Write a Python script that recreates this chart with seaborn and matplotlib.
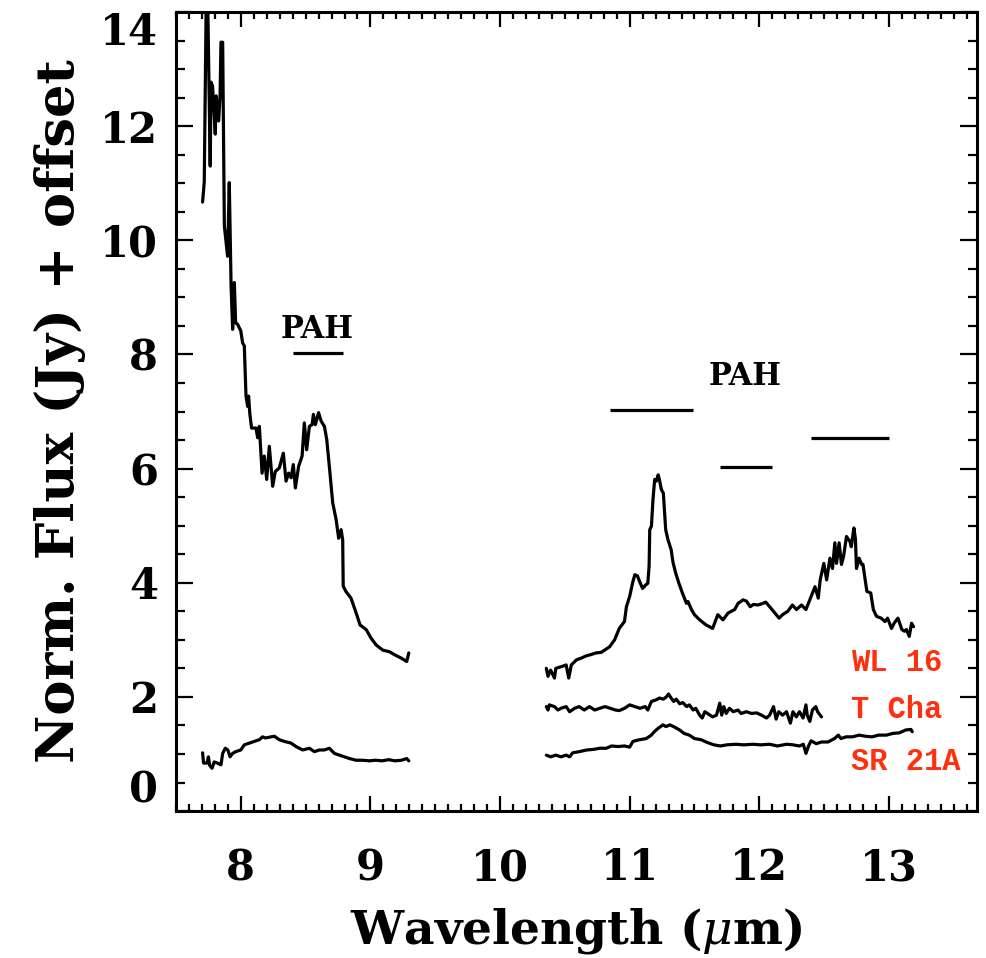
import matplotlib
matplotlib.use("Agg")
import matplotlib.pyplot as plt
import seaborn as sns
import pandas as pd

# short-wavelength piece (7.7 - 9.3 um)
wl16_short_x = [7.705, 7.718, 7.735, 7.742, 7.764, 7.770, 7.782, 7.803, 7.810, 7.829,
                7.840, 7.847, 7.860, 7.865, 7.873, 7.898, 7.911, 7.925, 7.937, 7.950,
                7.960, 7.975, 8.000, 8.014, 8.027, 8.040, 8.053, 8.060, 8.070, 8.083,
                8.117, 8.130, 8.143, 8.164, 8.181, 8.200, 8.220, 8.246, 8.266, 8.297,
                8.328, 8.349, 8.369, 8.388, 8.405, 8.421, 8.446, 8.473, 8.490, 8.508,
                8.529, 8.550, 8.560, 8.575, 8.600, 8.620, 8.645, 8.663, 8.683, 8.709,
                8.735, 8.755, 8.774, 8.786, 8.790, 8.810, 8.850, 8.890, 8.920, 8.967,
                9.005, 9.044, 9.095, 9.147, 9.185, 9.237, 9.280, 9.296]
wl16_short_y = [10.67, 11.02, 14.60, 14.60, 11.30, 12.77, 12.70, 11.86, 12.53, 12.09,
                12.53, 13.47, 13.47, 12.24, 10.25, 9.72, 11.01, 9.20, 8.44, 9.26,
                8.55, 8.53, 8.41, 8.20, 8.15, 7.27, 7.09, 7.27, 6.95, 6.71,
                6.71, 6.54, 6.74, 5.92, 6.22, 5.81, 6.39, 5.69, 5.95, 6.01,
                6.27, 5.78, 5.92, 5.84, 6.07, 5.66, 6.04, 6.22, 6.80, 6.33,
                6.74, 6.77, 6.95, 6.77, 6.98, 6.83, 6.74, 6.51, 6.04, 5.40,
                5.11, 4.78, 4.93, 4.75, 3.94, 3.85, 3.73, 3.47, 3.26, 3.18,
                3.03, 2.91, 2.82, 2.79, 2.74, 2.68, 2.62, 2.77]

sr21_short_x = [7.705, 7.713, 7.740, 7.750, 7.760, 7.778, 7.795, 7.820, 7.847, 7.860,
                7.880, 7.900, 7.917, 7.937, 7.960, 8.000, 8.027, 8.066, 8.104, 8.143,
                8.168, 8.190, 8.233, 8.260, 8.297, 8.336, 8.388, 8.426, 8.477, 8.529,
                8.568, 8.606, 8.645, 8.683, 8.722, 8.760, 8.799, 8.838, 8.890, 8.940,
                8.990, 9.040, 9.090, 9.140, 9.190, 9.240, 9.280, 9.296]
sr21_short_y = [1.02, 0.84, 0.84, 0.95, 0.80, 0.75, 0.86, 0.84, 0.81, 1.01,
                1.10, 1.07, 0.95, 1.01, 1.04, 1.07, 1.16, 1.19, 1.22, 1.25,
                1.30, 1.28, 1.30, 1.31, 1.25, 1.22, 1.19, 1.13, 1.07, 1.10,
                1.04, 1.07, 1.07, 1.10, 1.01, 0.98, 0.95, 0.92, 0.89, 0.89,
                0.88, 0.89, 0.88, 0.90, 0.88, 0.89, 0.92, 0.88]

# long-wavelength piece (10.35 - 13.2 um)
wl16_long_x = [10.357, 10.370, 10.390, 10.420, 10.430, 10.473, 10.510, 10.530, 10.550, 10.590,
               10.627, 10.666, 10.700, 10.740, 10.780, 10.807, 10.846, 10.884, 10.920, 10.960,
               10.975, 11.000, 11.025, 11.040, 11.060, 11.077, 11.100, 11.123, 11.140, 11.150,
               11.155, 11.168, 11.180, 11.193, 11.206, 11.220, 11.230, 11.245, 11.260, 11.278,
               11.296, 11.320, 11.335, 11.355, 11.380, 11.407, 11.438, 11.450, 11.477, 11.500,
               11.540, 11.590, 11.640, 11.680, 11.720, 11.760, 11.810, 11.837, 11.875, 11.900,
               11.930, 11.955, 11.990, 12.030, 12.050, 12.080, 12.120, 12.153, 12.180, 12.220,
               12.256, 12.287, 12.326, 12.360, 12.395, 12.430, 12.455, 12.470, 12.498, 12.520,
               12.545, 12.565, 12.583, 12.596, 12.616, 12.634, 12.650, 12.673, 12.700, 12.710,
               12.730, 12.742, 12.750, 12.770, 12.790, 12.800, 12.830, 12.860, 12.880, 12.905,
               12.940, 12.970, 12.990, 13.020, 13.040, 13.070, 13.100, 13.120, 13.135, 13.157,
               13.175, 13.190]
wl16_long_y = [2.50, 2.36, 2.47, 2.33, 2.50, 2.53, 2.56, 2.33, 2.56, 2.65,
               2.68, 2.72, 2.74, 2.77, 2.78, 2.82, 2.88, 3.00, 3.20, 3.32,
               3.58, 3.76, 4.02, 4.14, 4.12, 4.02, 3.90, 3.96, 3.99, 4.29,
               4.93, 4.99, 5.46, 5.81, 5.78, 5.89, 5.80, 5.63, 5.57, 4.93,
               4.75, 4.58, 4.35, 4.17, 3.99, 3.82, 3.64, 3.67, 3.53, 3.44,
               3.35, 3.26, 3.20, 3.44, 3.35, 3.47, 3.53, 3.64, 3.70, 3.68,
               3.58, 3.62, 3.61, 3.64, 3.66, 3.58, 3.47, 3.38, 3.44, 3.50,
               3.61, 3.53, 3.61, 3.53, 3.73, 3.93, 3.73, 4.05, 4.34, 4.05,
               4.43, 4.25, 4.70, 4.34, 4.70, 4.32, 4.46, 4.81, 4.72, 4.63,
               4.96, 4.76, 4.25, 4.43, 4.32, 4.32, 3.85, 3.82, 3.53, 3.41,
               3.38, 3.32, 3.38, 3.20, 3.29, 3.38, 3.18, 3.15, 3.18, 3.06,
               3.29, 3.23]

tcha_long_x = [10.357, 10.370, 10.380, 10.420, 10.446, 10.470, 10.510, 10.537, 10.575, 10.610,
               10.650, 10.690, 10.730, 10.770, 10.810, 10.850, 10.890, 10.920, 10.960, 11.000,
               11.040, 11.080, 11.120, 11.140, 11.168, 11.206, 11.230, 11.260, 11.283, 11.300,
               11.320, 11.340, 11.360, 11.386, 11.410, 11.440, 11.460, 11.490, 11.510, 11.540,
               11.560, 11.580, 11.600, 11.640, 11.670, 11.695, 11.710, 11.726, 11.745, 11.770,
               11.800, 11.835, 11.860, 11.900, 11.940, 11.980, 12.017, 12.056, 12.080, 12.110,
               12.130, 12.150, 12.180, 12.210, 12.240, 12.260, 12.286, 12.310, 12.338, 12.360,
               12.370, 12.390, 12.410, 12.436, 12.450, 12.480]
tcha_long_y = [1.83, 1.77, 1.86, 1.83, 1.77, 1.80, 1.83, 1.74, 1.80, 1.83,
               1.77, 1.83, 1.77, 1.80, 1.83, 1.80, 1.77, 1.76, 1.80, 1.86,
               1.83, 1.80, 1.83, 1.77, 1.92, 1.95, 1.98, 1.96, 2.00, 2.05,
               1.98, 1.92, 1.96, 1.88, 1.90, 1.83, 1.86, 1.77, 1.80, 1.68,
               1.63, 1.74, 1.71, 1.65, 1.68, 1.89, 1.68, 1.83, 1.71, 1.80,
               1.74, 1.77, 1.71, 1.74, 1.71, 1.72, 1.68, 1.63, 1.68, 1.83,
               1.61, 1.74, 1.68, 1.74, 1.54, 1.74, 1.65, 1.74, 1.63, 1.86,
               1.68, 1.57, 1.77, 1.83, 1.74, 1.65]

sr21_long_x = [10.357, 10.390, 10.430, 10.470, 10.510, 10.537, 10.560, 10.610, 10.670, 10.720,
               10.770, 10.820, 10.860, 10.910, 10.960, 11.000, 11.025, 11.077, 11.128, 11.167,
               11.190, 11.220, 11.257, 11.280, 11.310, 11.347, 11.386, 11.420, 11.460, 11.500,
               11.550, 11.600, 11.650, 11.700, 11.750, 11.820, 11.880, 11.950, 12.010, 12.080,
               12.140, 12.210, 12.260, 12.310, 12.340, 12.360, 12.380, 12.400, 12.440, 12.480,
               12.530, 12.580, 12.610, 12.630, 12.670, 12.720, 12.770, 12.820, 12.870, 12.920,
               12.980, 13.030, 13.080, 13.130, 13.170, 13.180]
sr21_long_y = [0.98, 0.95, 0.98, 0.95, 0.98, 0.95, 1.02, 1.04, 1.07, 1.08,
               1.10, 1.10, 1.14, 1.13, 1.14, 1.12, 1.22, 1.25, 1.27, 1.33,
               1.39, 1.45, 1.51, 1.48, 1.51, 1.47, 1.42, 1.36, 1.33, 1.27,
               1.25, 1.20, 1.16, 1.14, 1.16, 1.17, 1.16, 1.17, 1.16, 1.17,
               1.14, 1.17, 1.16, 1.14, 1.17, 1.01, 1.14, 1.23, 1.18, 1.21,
               1.21, 1.27, 1.33, 1.27, 1.30, 1.30, 1.33, 1.31, 1.30, 1.33,
               1.33, 1.36, 1.37, 1.42, 1.43, 1.39]

# PAH feature bands
pah_start = [8.40, 10.85, 11.70, 12.40]
pah_end = [8.79, 11.49, 12.10, 13.00]
pah_level = [8.02, 7.02, 6.02, 6.53]

star_names = ["WL 16", "T Cha", "SR 21A"]
star_label_y = [2.60, 1.77, 0.86]

sns.set_theme(style="ticks")
plt.rcParams["font.family"] = ["DejaVu Serif"]
plt.rcParams["mathtext.fontset"] = "dejavuserif"
plt.rcParams["text.color"] = "black"
plt.rcParams["axes.labelcolor"] = "black"
plt.rcParams["xtick.color"] = "black"
plt.rcParams["ytick.color"] = "black"

pieces = [(wl16_short_x, wl16_short_y), (sr21_short_x, sr21_short_y),
          (wl16_long_x, wl16_long_y), (tcha_long_x, tcha_long_y),
          (sr21_long_x, sr21_long_y)]

fig = plt.figure(figsize=(9.86, 9.58), dpi=100)
ax = fig.add_axes([0.1785, 0.1534, 0.8124, 0.8341])

for xs, ys in pieces:
    df = pd.DataFrame({"wavelength": xs, "flux": ys})
    sns.lineplot(data=df, x="wavelength", y="flux", ax=ax, color="black",
                 linewidth=2.3, sort=False, estimator=None)

ax.hlines(pah_level, pah_start, pah_end, color="black", linewidth=2.3)
ax.text(8.59, 8.44, "PAH", ha="center", va="center", fontsize=22, fontweight="bold")
ax.text(11.89, 7.61, "PAH", ha="center", va="center", fontsize=22, fontweight="bold")

for name, yy in zip(star_names, star_label_y):
    ax.text(12.71, yy, name, ha="left", va="center", color="#ff3010",
            fontsize=22, fontweight="bold", family="Liberation Mono")

ax.set_xlim(7.5, 13.68)
ax.set_ylim(0, 14)
ax.set_xticks([8, 9, 10, 11, 12, 13])
ax.set_yticks([0, 2, 4, 6, 8, 10, 12, 14])
ax.xaxis.set_minor_locator(matplotlib.ticker.MultipleLocator(0.1))
ax.yaxis.set_minor_locator(matplotlib.ticker.MultipleLocator(0.5))
ax.tick_params(which="both", direction="in", top=True, right=True, width=1.6, colors="black")
ax.tick_params(axis="x", which="major", length=11, pad=26, labelsize=30)
ax.tick_params(axis="x", which="minor", length=5)
ax.tick_params(axis="y", which="major", length=12, pad=13, labelsize=30)
ax.tick_params(axis="y", which="minor", length=6.5)
for lab in ax.get_xticklabels() + ax.get_yticklabels():
    lab.set_fontweight("bold")
ylabs = ax.get_yticklabels()
ylabs[0].set_va("bottom")
ylabs[-1].set_va("top")

for side in ax.spines.values():
    side.set_linewidth(2.2)
    side.set_color("black")

ax.set_xlabel(r"Wavelength ($\mu$m)", fontsize=34, fontweight="bold", labelpad=12)
ax.set_ylabel("Norm. Flux (Jy) + offset", fontsize=38, fontweight="bold", labelpad=10)

fig.savefig("out.png", dpi=100, facecolor="white")
